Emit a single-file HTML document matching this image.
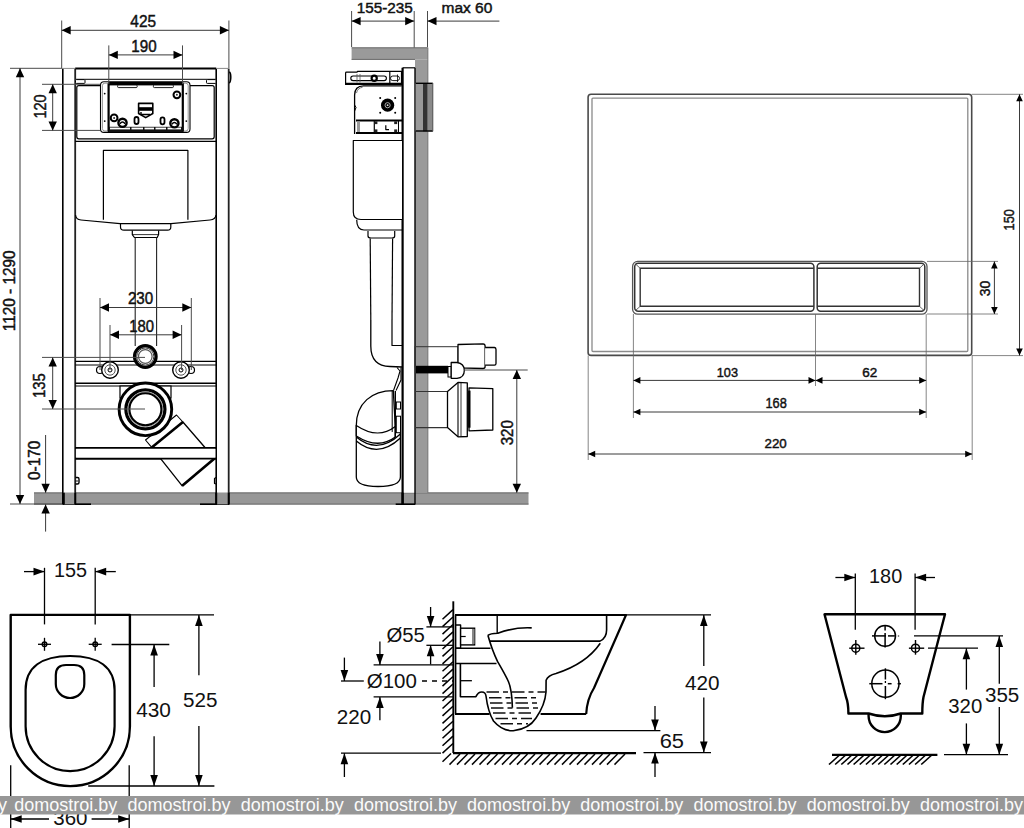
<!DOCTYPE html>
<html><head><meta charset="utf-8"><style>
html,body{margin:0;padding:0;background:#fff;width:1024px;height:828px;overflow:hidden}
svg{display:block}
text{font-family:"Liberation Sans",sans-serif}
</style></head><body>
<svg width="1024" height="828" viewBox="0 0 1024 828">
<rect x="34.00" y="492.30" width="494.50" height="12.40" rx="0" stroke="none" stroke-width="0" fill="#979797" />
<line x1="34.00" y1="493.00" x2="528.50" y2="493.00" stroke="#707070" stroke-width="1.2" />
<line x1="34.00" y1="504.00" x2="528.50" y2="504.00" stroke="#707070" stroke-width="1.2" />
<rect x="62.80" y="68.50" width="12.40" height="424.20" rx="0" stroke="none" stroke-width="0" fill="#fff" />
<line x1="62.80" y1="68.50" x2="62.80" y2="504.40" stroke="#000" stroke-width="1.6" />
<line x1="75.20" y1="68.50" x2="75.20" y2="504.40" stroke="#222" stroke-width="1.8" />
<rect x="216.20" y="68.50" width="12.50" height="424.20" rx="0" stroke="none" stroke-width="0" fill="#fff" />
<line x1="216.20" y1="68.50" x2="216.20" y2="504.40" stroke="#000" stroke-width="1.6" />
<line x1="228.70" y1="68.50" x2="228.70" y2="504.40" stroke="#222" stroke-width="1.8" />
<line x1="75.20" y1="68.40" x2="216.20" y2="68.40" stroke="#000" stroke-width="2" />
<line x1="62.80" y1="68.40" x2="75.20" y2="68.40" stroke="#888" stroke-width="1" />
<line x1="216.20" y1="68.40" x2="228.70" y2="68.40" stroke="#888" stroke-width="1" />
<path d="M229.2,72 Q230.8,72.5 230.8,77 Q230.8,82 229.2,83" stroke="#000" stroke-width="1.5" fill="none" stroke-linejoin="round" />
<line x1="63.00" y1="504.20" x2="91.00" y2="504.20" stroke="#000" stroke-width="1.6" />
<line x1="200.00" y1="504.20" x2="229.00" y2="504.20" stroke="#000" stroke-width="1.6" />
<rect x="63.80" y="492.70" width="11.20" height="11.70" rx="0" stroke="none" stroke-width="0" fill="#959595" />
<rect x="217.00" y="492.70" width="11.20" height="11.70" rx="0" stroke="none" stroke-width="0" fill="#959595" />
<path d="M75.5,477.5 L77.5,477.5 Q79,477.5 79,479 L79,482.5 Q79,484 77.5,484 L75.5,484" stroke="#000" stroke-width="1.4" fill="none" stroke-linejoin="round" />
<line x1="75.50" y1="481.00" x2="78.00" y2="481.00" stroke="#000" stroke-width="0.9" />
<path d="M216,477.5 L214.5,478.5 L214.5,483.5 L216,484" stroke="#000" stroke-width="1.2" fill="none" stroke-linejoin="round" />
<line x1="63.80" y1="492.70" x2="63.80" y2="504.40" stroke="#000" stroke-width="2" />
<line x1="75.20" y1="492.70" x2="75.20" y2="504.40" stroke="#000" stroke-width="2" />
<line x1="216.20" y1="492.70" x2="216.20" y2="504.40" stroke="#000" stroke-width="2" />
<line x1="228.70" y1="492.70" x2="228.70" y2="504.40" stroke="#000" stroke-width="2" />
<line x1="75.20" y1="79.40" x2="216.20" y2="79.40" stroke="#333" stroke-width="1.1" />
<rect x="75.50" y="79.60" width="9.50" height="3.80" rx="0.8" stroke="#000" stroke-width="1" fill="#fff" />
<rect x="206.50" y="79.60" width="9.50" height="3.80" rx="0.8" stroke="#000" stroke-width="1" fill="#fff" />
<rect x="76.80" y="85.60" width="137.40" height="53.20" rx="2" stroke="#000" stroke-width="1.2" fill="none" />
<line x1="75.20" y1="141.40" x2="216.20" y2="141.40" stroke="#000" stroke-width="1.2" />
<rect x="100.50" y="81.80" width="89.50" height="50.60" rx="3.5" stroke="#000" stroke-width="1.1" fill="#fff" />
<rect x="102.40" y="83.20" width="85.80" height="47.80" rx="2.5" stroke="#666" stroke-width="0.7" fill="none" />
<rect x="108.60" y="83.20" width="74.20" height="48.60" rx="1" stroke="#000" stroke-width="2.2" fill="none" />
<rect x="108.60" y="82.60" width="74.20" height="2.80" rx="0" stroke="none" stroke-width="0" fill="#000" />
<rect x="117.60" y="85.00" width="19.60" height="2.60" rx="1" stroke="#000" stroke-width="0.9" fill="#fff" />
<rect x="153.40" y="85.00" width="20.00" height="2.60" rx="1" stroke="#000" stroke-width="0.9" fill="#fff" />
<rect x="108.60" y="126.80" width="74.20" height="5.20" rx="0" stroke="none" stroke-width="0" fill="#111" />
<rect x="110.00" y="127.60" width="20.00" height="1.80" rx="0" stroke="none" stroke-width="0" fill="#fff" />
<rect x="131.50" y="127.60" width="11.50" height="1.80" rx="0" stroke="none" stroke-width="0" fill="#fff" />
<rect x="144.50" y="127.60" width="9.50" height="1.80" rx="0" stroke="none" stroke-width="0" fill="#fff" />
<rect x="155.50" y="127.60" width="10.50" height="1.80" rx="0" stroke="none" stroke-width="0" fill="#fff" />
<rect x="167.50" y="127.60" width="13.50" height="1.80" rx="0" stroke="none" stroke-width="0" fill="#fff" />
<circle cx="176.90" cy="94.80" r="3.40" stroke="#000" stroke-width="2" fill="none"/>
<circle cx="176.90" cy="94.80" r="1.00" stroke="#000" stroke-width="0" fill="#333"/>
<circle cx="114.10" cy="117.90" r="3.40" stroke="#000" stroke-width="2" fill="none"/>
<circle cx="114.10" cy="117.90" r="1.00" stroke="#000" stroke-width="0" fill="#333"/>
<circle cx="122.50" cy="122.80" r="4.10" stroke="#000" stroke-width="2.4" fill="#fff"/>
<path d="M120.0,123.8 Q122.5,120.3 125.0,123.8" stroke="#000" stroke-width="1.5" fill="none" stroke-linejoin="round" />
<circle cx="174.40" cy="123.30" r="4.10" stroke="#000" stroke-width="2.4" fill="#fff"/>
<path d="M171.9,124.3 Q174.4,120.8 176.9,124.3" stroke="#000" stroke-width="1.5" fill="none" stroke-linejoin="round" />
<rect x="134.50" y="117.00" width="4.00" height="7.00" rx="2" stroke="#000" stroke-width="1.8" fill="#fff" />
<rect x="160.50" y="117.30" width="4.00" height="7.00" rx="2" stroke="#000" stroke-width="1.8" fill="#fff" />
<path d="M138.6,103.4 L152.8,103.4 L152.8,113.5 L145.7,117.6 L138.6,113.5 Z" stroke="#000" stroke-width="1.6" fill="#fff" stroke-linejoin="round" />
<rect x="138.60" y="107.20" width="14.20" height="3.60" rx="0" stroke="none" stroke-width="0" fill="#000" />
<path d="M141,112 L141,114.5 L150,114.5" stroke="#000" stroke-width="1.4" fill="none" stroke-linejoin="round" />
<circle cx="104.70" cy="93.60" r="0.90" stroke="#000" stroke-width="0" fill="#000"/>
<circle cx="186.30" cy="93.60" r="0.90" stroke="#000" stroke-width="0" fill="#000"/>
<circle cx="104.70" cy="121.10" r="0.90" stroke="#000" stroke-width="0" fill="#000"/>
<circle cx="186.30" cy="121.10" r="0.90" stroke="#000" stroke-width="0" fill="#000"/>
<path d="M103.4,219.8 L103.4,150.4 L187.9,150.4 L187.9,219.8" stroke="#000" stroke-width="1.2" fill="none" stroke-linejoin="round" />
<path d="M75.5,215 Q76,219.5 81,220 L120,223.6 L171,223.6 L210,220 Q215.5,219.5 216,215" stroke="#000" stroke-width="1.2" fill="none" stroke-linejoin="round" />
<path d="M120.5,223.6 L120.5,227 Q120.5,230.2 124,230.2 L167.5,230.2 Q170.8,230.2 170.8,227 L170.8,223.6" stroke="#000" stroke-width="1.2" fill="none" stroke-linejoin="round" />
<path d="M132.3,230.5 L132.3,234.6 L134.4,237.5 L157.2,237.5 L158.6,234.6 L158.6,230.5" stroke="#000" stroke-width="1.2" fill="none" stroke-linejoin="round" />
<line x1="132.30" y1="234.60" x2="158.60" y2="234.60" stroke="#000" stroke-width="0.8" />
<line x1="135.20" y1="237.50" x2="135.20" y2="346.00" stroke="#222" stroke-width="1.1" />
<line x1="156.60" y1="237.50" x2="156.60" y2="346.00" stroke="#222" stroke-width="1.1" />
<line x1="75.20" y1="361.40" x2="216.20" y2="361.40" stroke="#000" stroke-width="1.4" />
<line x1="75.20" y1="365.00" x2="216.20" y2="365.00" stroke="#000" stroke-width="1" />
<line x1="75.20" y1="383.30" x2="216.20" y2="383.30" stroke="#000" stroke-width="1.4" />
<line x1="75.20" y1="386.00" x2="216.20" y2="386.00" stroke="#000" stroke-width="1" />
<line x1="75.20" y1="447.90" x2="216.20" y2="447.90" stroke="#000" stroke-width="1.8" />
<line x1="75.20" y1="458.70" x2="216.20" y2="458.70" stroke="#000" stroke-width="1.8" />
<circle cx="145.30" cy="356.50" r="10.80" stroke="#000" stroke-width="3.2" fill="#fff"/>
<circle cx="145.30" cy="356.50" r="8.60" stroke="#333" stroke-width="1" fill="none"/>
<circle cx="145.30" cy="356.50" r="6.80" stroke="#555" stroke-width="1.2" fill="none"/>
<circle cx="100.00" cy="370.00" r="3.50" stroke="#000" stroke-width="1.2" fill="#fff"/>
<circle cx="110.00" cy="370.00" r="8.30" stroke="#000" stroke-width="1.4" fill="#fff"/>
<circle cx="110.00" cy="370.00" r="5.20" stroke="#555" stroke-width="1" fill="none"/>
<circle cx="110.00" cy="370.00" r="2.00" stroke="#000" stroke-width="1" fill="none"/>
<circle cx="191.00" cy="370.00" r="3.50" stroke="#000" stroke-width="1.2" fill="#fff"/>
<circle cx="181.00" cy="370.00" r="8.30" stroke="#000" stroke-width="1.4" fill="#fff"/>
<circle cx="181.00" cy="370.00" r="5.20" stroke="#555" stroke-width="1" fill="none"/>
<circle cx="181.00" cy="370.00" r="2.00" stroke="#000" stroke-width="1" fill="none"/>
<path d="M151.7,447.4 L182.9,422 L214.5,458.5 L182.2,485.8 Z" stroke="#000" stroke-width="1.3" fill="#fff" stroke-linejoin="round" />
<path d="M145.5,440 L176.5,415 L182.9,422 L151.7,447.4 Z" stroke="#000" stroke-width="1.1" fill="#fff" stroke-linejoin="round" />
<line x1="151.70" y1="447.40" x2="182.90" y2="422.00" stroke="#000" stroke-width="2.6" />
<line x1="182.20" y1="485.80" x2="214.50" y2="458.50" stroke="#000" stroke-width="2.6" />
<rect x="76.20" y="447.90" width="139.00" height="10.80" rx="0" stroke="none" stroke-width="0" fill="#fff" />
<line x1="75.20" y1="447.90" x2="216.20" y2="447.90" stroke="#000" stroke-width="1.8" />
<line x1="75.20" y1="458.70" x2="216.20" y2="458.70" stroke="#000" stroke-width="1.8" />
<rect x="120.00" y="386.00" width="51.00" height="12.00" rx="0" stroke="#000" stroke-width="1.2" fill="#fff" />
<circle cx="145.40" cy="409.30" r="26.30" stroke="#000" stroke-width="2.9" fill="#fff"/>
<circle cx="145.40" cy="409.30" r="19.50" stroke="#000" stroke-width="3.3" fill="none"/>
<circle cx="145.40" cy="409.30" r="17.40" stroke="#999" stroke-width="0.9" fill="none"/>
<circle cx="145.40" cy="409.30" r="16.00" stroke="#000" stroke-width="2.1" fill="none"/>
<line x1="61.70" y1="20.50" x2="61.70" y2="68.00" stroke="#4a4a4a" stroke-width="1" />
<line x1="228.90" y1="20.50" x2="228.90" y2="68.00" stroke="#4a4a4a" stroke-width="1" />
<line x1="61.70" y1="30.30" x2="228.90" y2="30.30" stroke="#3a3a3a" stroke-width="1" />
<polygon points="61.70,30.30 70.70,26.10 70.70,34.50" fill="#000"/>
<polygon points="228.90,30.30 219.90,26.10 219.90,34.50" fill="#000"/>
<text x="143.20" y="26.80" font-size="16.48" text-anchor="middle" fill="#111" stroke="#111" stroke-width="0.45" textLength="25.75" lengthAdjust="spacingAndGlyphs">425</text>
<line x1="108.80" y1="45.40" x2="108.80" y2="84.00" stroke="#4a4a4a" stroke-width="1" />
<line x1="182.50" y1="45.40" x2="182.50" y2="84.00" stroke="#4a4a4a" stroke-width="1" />
<line x1="108.80" y1="54.90" x2="182.50" y2="54.90" stroke="#3a3a3a" stroke-width="1" />
<polygon points="108.80,54.90 117.80,50.70 117.80,59.10" fill="#000"/>
<polygon points="182.50,54.90 173.50,50.70 173.50,59.10" fill="#000"/>
<text x="144.00" y="51.60" font-size="15.92" text-anchor="middle" fill="#111" stroke="#111" stroke-width="0.45" textLength="25.31" lengthAdjust="spacingAndGlyphs">190</text>
<line x1="10.00" y1="68.30" x2="62.00" y2="68.30" stroke="#4a4a4a" stroke-width="1" />
<line x1="10.00" y1="504.00" x2="62.00" y2="504.00" stroke="#4a4a4a" stroke-width="1" />
<line x1="20.00" y1="68.00" x2="20.00" y2="504.00" stroke="#3a3a3a" stroke-width="1" />
<polygon points="20.00,68.30 15.80,77.30 24.20,77.30" fill="#000"/>
<polygon points="20.00,504.00 15.80,495.00 24.20,495.00" fill="#000"/>
<text x="15.00" y="290.75" font-size="16.06" text-anchor="middle" fill="#111" stroke="#111" stroke-width="0.45" textLength="80.82" lengthAdjust="spacingAndGlyphs" transform="rotate(-90 15.00 290.75)">1120 - 1290</text>
<line x1="42.00" y1="84.30" x2="100.00" y2="84.30" stroke="#4a4a4a" stroke-width="1" />
<line x1="42.00" y1="130.40" x2="100.00" y2="130.40" stroke="#4a4a4a" stroke-width="1" />
<line x1="52.70" y1="84.30" x2="52.70" y2="130.40" stroke="#3a3a3a" stroke-width="1" />
<polygon points="52.70,84.30 48.50,93.30 56.90,93.30" fill="#000"/>
<polygon points="52.70,130.40 48.50,121.40 56.90,121.40" fill="#000"/>
<text x="46.00" y="106.45" font-size="16.06" text-anchor="middle" fill="#111" stroke="#111" stroke-width="0.45" textLength="24.22" lengthAdjust="spacingAndGlyphs" transform="rotate(-90 46.00 106.45)">120</text>
<line x1="42.00" y1="357.40" x2="145.00" y2="357.40" stroke="#4a4a4a" stroke-width="1" />
<line x1="42.00" y1="409.00" x2="145.00" y2="409.00" stroke="#4a4a4a" stroke-width="1" />
<line x1="52.70" y1="357.40" x2="52.70" y2="409.00" stroke="#3a3a3a" stroke-width="1" />
<polygon points="52.70,357.40 48.50,366.40 56.90,366.40" fill="#000"/>
<polygon points="52.70,409.00 48.50,400.00 56.90,400.00" fill="#000"/>
<text x="45.20" y="385.50" font-size="16.48" text-anchor="middle" fill="#111" stroke="#111" stroke-width="0.45" textLength="24.75" lengthAdjust="spacingAndGlyphs" transform="rotate(-90 45.20 385.50)">135</text>
<line x1="45.60" y1="435.00" x2="45.60" y2="492.70" stroke="#3a3a3a" stroke-width="1" />
<polygon points="45.60,492.70 41.40,483.70 49.80,483.70" fill="#000"/>
<line x1="45.60" y1="504.40" x2="45.60" y2="531.60" stroke="#3a3a3a" stroke-width="1" />
<polygon points="45.60,504.40 41.40,513.40 49.80,513.40" fill="#000"/>
<text x="40.20" y="460.35" font-size="16.90" text-anchor="middle" fill="#111" stroke="#111" stroke-width="0.45" textLength="39.28" lengthAdjust="spacingAndGlyphs" transform="rotate(-90 40.20 460.35)">0-170</text>
<line x1="100.00" y1="298.00" x2="100.00" y2="370.00" stroke="#4a4a4a" stroke-width="1" />
<line x1="191.30" y1="298.00" x2="191.30" y2="370.00" stroke="#4a4a4a" stroke-width="1" />
<line x1="100.00" y1="307.50" x2="191.30" y2="307.50" stroke="#3a3a3a" stroke-width="1" />
<polygon points="100.00,307.50 109.00,303.30 109.00,311.70" fill="#000"/>
<polygon points="191.30,307.50 182.30,303.30 182.30,311.70" fill="#000"/>
<text x="140.60" y="303.90" font-size="15.92" text-anchor="middle" fill="#111" stroke="#111" stroke-width="0.45" textLength="25.31" lengthAdjust="spacingAndGlyphs">230</text>
<line x1="110.00" y1="325.00" x2="110.00" y2="370.00" stroke="#4a4a4a" stroke-width="1" />
<line x1="181.60" y1="325.00" x2="181.60" y2="370.00" stroke="#4a4a4a" stroke-width="1" />
<line x1="110.00" y1="334.80" x2="181.60" y2="334.80" stroke="#3a3a3a" stroke-width="1" />
<polygon points="110.00,334.80 119.00,330.60 119.00,339.00" fill="#000"/>
<polygon points="181.60,334.80 172.60,330.60 172.60,339.00" fill="#000"/>
<text x="141.55" y="331.60" font-size="15.92" text-anchor="middle" fill="#111" stroke="#111" stroke-width="0.45" textLength="24.81" lengthAdjust="spacingAndGlyphs">180</text>
<rect x="351.60" y="47.60" width="76.30" height="12.00" rx="0" stroke="none" stroke-width="0" fill="#9a9a9a" />
<line x1="351.60" y1="47.80" x2="427.90" y2="47.80" stroke="#6a6a6a" stroke-width="1" />
<line x1="351.60" y1="59.40" x2="415.00" y2="59.40" stroke="#6a6a6a" stroke-width="1" />
<rect x="415.00" y="59.50" width="12.90" height="433.30" rx="0" stroke="none" stroke-width="0" fill="#9a9a9a" />
<line x1="427.90" y1="47.60" x2="427.90" y2="492.80" stroke="#666" stroke-width="0.8" />
<rect x="402.60" y="67.80" width="12.40" height="424.90" rx="0" stroke="none" stroke-width="0" fill="#fff" />
<line x1="402.60" y1="67.80" x2="402.60" y2="504.40" stroke="#000" stroke-width="2.2" />
<line x1="415.00" y1="67.80" x2="415.00" y2="504.40" stroke="#000" stroke-width="1.4" />
<line x1="402.60" y1="67.80" x2="415.00" y2="67.80" stroke="#000" stroke-width="1.2" />
<line x1="395.70" y1="504.20" x2="415.00" y2="504.20" stroke="#000" stroke-width="1.6" />
<line x1="402.60" y1="492.70" x2="402.60" y2="504.40" stroke="#000" stroke-width="2.2" />
<line x1="351.60" y1="11.00" x2="351.60" y2="47.00" stroke="#4a4a4a" stroke-width="1" />
<line x1="414.20" y1="11.00" x2="414.20" y2="47.60" stroke="#4a4a4a" stroke-width="1" />
<line x1="427.50" y1="11.00" x2="427.50" y2="47.00" stroke="#4a4a4a" stroke-width="1" />
<line x1="351.60" y1="21.10" x2="414.20" y2="21.10" stroke="#3a3a3a" stroke-width="1" />
<polygon points="351.60,21.10 360.60,16.90 360.60,25.30" fill="#000"/>
<polygon points="414.20,21.10 405.20,16.90 405.20,25.30" fill="#000"/>
<line x1="427.50" y1="21.10" x2="499.40" y2="21.10" stroke="#3a3a3a" stroke-width="1" />
<polygon points="427.50,21.10 436.50,16.90 436.50,25.30" fill="#000"/>
<text x="384.80" y="12.50" font-size="15.49" text-anchor="middle" fill="#111" stroke="#111" stroke-width="0.45" textLength="56.08" lengthAdjust="spacingAndGlyphs">155-235</text>
<text x="466.90" y="13.20" font-size="15.49" text-anchor="middle" fill="#111" stroke="#111" stroke-width="0.45" textLength="50.88" lengthAdjust="spacingAndGlyphs">max 60</text>
<rect x="415.70" y="83.00" width="17.10" height="48.30" rx="0" stroke="none" stroke-width="0" fill="#999" />
<rect x="427.50" y="83.00" width="5.30" height="48.30" rx="0" stroke="none" stroke-width="0" fill="#8a8a8a" />
<rect x="423.00" y="83.00" width="4.40" height="48.30" rx="0" stroke="none" stroke-width="0" fill="#333" />
<line x1="415.70" y1="83.30" x2="432.80" y2="83.30" stroke="#000" stroke-width="1.4" />
<line x1="415.70" y1="131.00" x2="432.80" y2="131.00" stroke="#000" stroke-width="1.4" />
<line x1="432.80" y1="83.00" x2="432.80" y2="131.30" stroke="#555" stroke-width="1" />
<path d="M345.6,84.4 L345.6,73 Q345.6,72.2 346.5,72.2 L357,72.2 L357.5,71.3 L401.5,71.3 L401.5,84.4 Z" stroke="#000" stroke-width="1.2" fill="#fff" stroke-linejoin="round" />
<line x1="345.60" y1="83.80" x2="401.50" y2="83.80" stroke="#000" stroke-width="2" />
<rect x="350.80" y="76.00" width="35.60" height="4.60" rx="2.3" stroke="#000" stroke-width="1.1" fill="none" />
<circle cx="374.20" cy="78.30" r="2.60" stroke="#000" stroke-width="2.2" fill="#fff"/>
<line x1="357.00" y1="74.00" x2="357.00" y2="82.50" stroke="#555" stroke-width="0.8" />
<line x1="360.00" y1="74.00" x2="360.00" y2="82.50" stroke="#555" stroke-width="0.8" />
<line x1="389.80" y1="72.00" x2="389.80" y2="83.50" stroke="#000" stroke-width="1.2" />
<rect x="390.50" y="76.00" width="9.00" height="4.60" rx="2.3" stroke="#000" stroke-width="0.9" fill="none" />
<line x1="397.50" y1="74.50" x2="397.50" y2="82.00" stroke="#000" stroke-width="0.8" />
<path d="M354.6,134 L354.6,95 Q354.6,86 363.5,85.8 L402,85.8" stroke="#000" stroke-width="1.3" fill="#fff" stroke-linejoin="round" />
<path d="M356.5,93 Q357.5,88 362.5,87.3" stroke="#555" stroke-width="0.8" fill="none" stroke-linejoin="round" />
<path d="M354.6,105 Q357.5,107 354.6,111" stroke="#000" stroke-width="1" fill="none" stroke-linejoin="round" />
<circle cx="387.60" cy="105.20" r="6.60" stroke="none" stroke-width="0" fill="#000"/>
<circle cx="387.60" cy="105.20" r="2.60" stroke="#bbb" stroke-width="0.9" fill="none"/>
<circle cx="387.60" cy="105.20" r="0.90" stroke="#000" stroke-width="0" fill="#ddd"/>
<circle cx="380.20" cy="97.90" r="1.00" stroke="#000" stroke-width="0" fill="#000"/>
<circle cx="395.20" cy="97.90" r="1.00" stroke="#000" stroke-width="0" fill="#000"/>
<circle cx="380.20" cy="112.80" r="1.00" stroke="#000" stroke-width="0" fill="#000"/>
<circle cx="395.20" cy="112.80" r="1.00" stroke="#000" stroke-width="0" fill="#000"/>
<line x1="356.00" y1="120.50" x2="402.00" y2="120.50" stroke="#000" stroke-width="1.8" />
<line x1="356.00" y1="133.00" x2="402.00" y2="133.00" stroke="#000" stroke-width="1.8" />
<rect x="357.00" y="121.50" width="3.00" height="10.50" rx="0" stroke="none" stroke-width="0" fill="#9a9a9a" />
<line x1="374.30" y1="121.00" x2="374.30" y2="132.50" stroke="#000" stroke-width="1.2" />
<rect x="374.60" y="121.30" width="2.80" height="2.80" rx="0" stroke="none" stroke-width="0" fill="#222" />
<rect x="374.60" y="129.40" width="2.80" height="2.80" rx="0" stroke="none" stroke-width="0" fill="#222" />
<rect x="394.20" y="121.30" width="3.00" height="2.80" rx="0" stroke="none" stroke-width="0" fill="#222" />
<rect x="394.20" y="129.40" width="3.00" height="2.80" rx="0" stroke="none" stroke-width="0" fill="#222" />
<line x1="398.50" y1="121.00" x2="398.50" y2="133.00" stroke="#000" stroke-width="1" />
<path d="M385.8,125.2 L385.8,129.6 L389,129.6" stroke="#000" stroke-width="1.2" fill="none" stroke-linejoin="round" />
<path d="M402,140.5 L353.3,140.5 L353.3,212 Q353.3,219.5 361,219.5 L402,219.5" stroke="#000" stroke-width="1.2" fill="#fff" stroke-linejoin="round" />
<path d="M356.7,219.8 Q356.7,230 364,230 L402,230" stroke="#000" stroke-width="1.2" fill="none" stroke-linejoin="round" />
<path d="M368,231 L368,236 Q368,238 371,238 L392,238 Q394.7,238 394.7,236 L394.7,231" stroke="#000" stroke-width="1.2" fill="none" stroke-linejoin="round" />
<line x1="370.20" y1="238.50" x2="370.80" y2="320.00" stroke="#000" stroke-width="1.2" />
<line x1="392.60" y1="238.50" x2="392.00" y2="320.00" stroke="#000" stroke-width="1.2" />
<path d="M370.8,320 L370.8,346 Q370.8,366 390,366.5 L402,367" stroke="#000" stroke-width="1.3" fill="none" stroke-linejoin="round" />
<path d="M392,320 L392,345.5 L402,345.5" stroke="#000" stroke-width="1.2" fill="none" stroke-linejoin="round" />
<rect x="415.00" y="346.70" width="43.00" height="20.30" rx="0" stroke="#333" stroke-width="1" fill="none" />
<path d="M458,344.5 L483,343.8 Q485.1,344 485.1,346 L485.1,366.5 Q485.1,368.5 483,368.5 L458,367.8 Z" stroke="#000" stroke-width="1.3" fill="#fff" stroke-linejoin="round" />
<path d="M485.1,347.5 L494.5,347.5 Q496,347.7 496,349.5 L496,363.5 Q496,365.2 494.5,365.2 L485.1,365.2" stroke="#000" stroke-width="1.3" fill="#fff" stroke-linejoin="round" />
<rect x="416.00" y="365.80" width="32.00" height="7.60" rx="0" stroke="none" stroke-width="0" fill="#000" />
<rect x="448.00" y="366.50" width="3.20" height="10.50" rx="0" stroke="#000" stroke-width="1" fill="#fff" />
<path d="M451.2,362.5 L457,362.5 Q464.3,363.5 464.3,370.4 Q464.3,377.5 457,378.3 L451.2,378.3 Z" stroke="#000" stroke-width="1.3" fill="#fff" stroke-linejoin="round" />
<line x1="464.00" y1="370.00" x2="527.70" y2="370.00" stroke="#4a4a4a" stroke-width="1" />
<line x1="415.00" y1="391.50" x2="447.50" y2="391.50" stroke="#333" stroke-width="1.1" />
<line x1="415.00" y1="427.60" x2="447.50" y2="427.60" stroke="#333" stroke-width="1.1" />
<path d="M447.5,391.5 L458,382.4 L467.3,382.8 L467.3,436.5 L458,436.8 L447.5,427.6 Z" stroke="#000" stroke-width="1.3" fill="#fff" stroke-linejoin="round" />
<line x1="458.00" y1="382.40" x2="458.00" y2="436.80" stroke="#000" stroke-width="1.1" />
<line x1="461.00" y1="382.60" x2="461.00" y2="436.60" stroke="#000" stroke-width="0.8" />
<path d="M469,387.9 L492.8,388.6 L492.8,430 L469,430.8 Z" stroke="#000" stroke-width="1.3" fill="#fff" stroke-linejoin="round" />
<line x1="469.30" y1="390.60" x2="469.30" y2="427.70" stroke="#000" stroke-width="2.4" />
<path d="M356.3,425 L356.3,477 Q356.3,486.5 378,486.5 Q400.4,486.5 400.4,477 L400.4,430" stroke="#000" stroke-width="1.3" fill="#fff" stroke-linejoin="round" />
<path d="M356.3,437 Q378,455 400.4,434" stroke="#000" stroke-width="1.3" fill="none" stroke-linejoin="round" />
<path d="M356.3,441 Q378,459 400.4,438" stroke="#000" stroke-width="1.3" fill="none" stroke-linejoin="round" />
<path d="M393.3,390.6 C372,390.6 356.3,403 356.3,425.5 L356.3,436 Q378,450 395.3,437 L395.3,426.5 L393.3,390.6 Z" stroke="#000" stroke-width="1.3" fill="#fff" stroke-linejoin="round" />
<path d="M356.3,425.5 Q378,440 395.3,426.5" stroke="#000" stroke-width="1.2" fill="none" stroke-linejoin="round" />
<line x1="392.20" y1="391.00" x2="392.20" y2="432.00" stroke="#000" stroke-width="1" />
<line x1="395.30" y1="391.00" x2="395.30" y2="437.00" stroke="#000" stroke-width="1.4" />
<rect x="396.30" y="402.00" width="4.20" height="7.00" rx="0" stroke="#000" stroke-width="1" fill="#fff" />
<rect x="396.30" y="416.20" width="4.20" height="16.50" rx="0" stroke="#000" stroke-width="1" fill="#fff" />
<path d="M397,367.5 L400,371 L398,378 L393.5,390.5" stroke="#000" stroke-width="1.1" fill="none" stroke-linejoin="round" />
<path d="M401,367.5 L401,380 L396,390.5" stroke="#000" stroke-width="1.1" fill="none" stroke-linejoin="round" />
<line x1="516.80" y1="370.00" x2="516.80" y2="492.70" stroke="#3a3a3a" stroke-width="1" />
<polygon points="516.80,370.00 512.60,379.00 521.00,379.00" fill="#000"/>
<polygon points="516.80,492.70 512.60,483.70 521.00,483.70" fill="#000"/>
<text x="513.30" y="432.70" font-size="15.92" text-anchor="middle" fill="#111" stroke="#111" stroke-width="0.45" textLength="25.11" lengthAdjust="spacingAndGlyphs" transform="rotate(-90 513.30 432.70)">320</text>
<rect x="588.10" y="94.30" width="383.60" height="261.10" rx="3" stroke="#4a4a4a" stroke-width="1.6" fill="none" />
<rect x="592.00" y="98.10" width="375.80" height="253.40" rx="1" stroke="#8a8a8a" stroke-width="1.3" fill="none" />
<rect x="632.60" y="261.40" width="294.40" height="52.80" rx="5" stroke="#555" stroke-width="1.3" fill="none" />
<rect x="634.70" y="263.20" width="179.20" height="48.10" rx="3.5" stroke="#333" stroke-width="1.5" fill="none" />
<rect x="817.20" y="263.20" width="107.60" height="48.10" rx="3.5" stroke="#333" stroke-width="1.5" fill="none" />
<path d="M813.9,268.3 L640.2,268.3 L640.2,306.3 L813.9,306.3" stroke="#333" stroke-width="1.4" fill="none" stroke-linejoin="round" />
<path d="M817.2,268.3 L919.5,268.3 L919.5,306.3 L817.2,306.3" stroke="#333" stroke-width="1.4" fill="none" stroke-linejoin="round" />
<path d="M635.5,264 L640.2,268.3 M635.5,310.5 L640.2,306.3 M924,264 L919.5,268.3 M924,310.5 L919.5,306.3" stroke="#555" stroke-width="0.9" fill="none" stroke-linejoin="round" />
<line x1="927.00" y1="261.40" x2="998.00" y2="261.40" stroke="#666" stroke-width="0.8" />
<line x1="927.00" y1="314.00" x2="998.00" y2="314.00" stroke="#666" stroke-width="0.8" />
<line x1="994.40" y1="261.40" x2="994.40" y2="314.00" stroke="#3a3a3a" stroke-width="1" />
<polygon points="994.40,261.40 991.10,268.40 997.70,268.40" fill="#000"/>
<polygon points="994.40,314.00 991.10,307.00 997.70,307.00" fill="#000"/>
<text x="989.60" y="288.55" font-size="14.37" text-anchor="middle" fill="#111" stroke="#111" stroke-width="0.45" textLength="15.51" lengthAdjust="spacingAndGlyphs" transform="rotate(-90 989.60 288.55)">30</text>
<line x1="971.70" y1="94.30" x2="1023.00" y2="94.30" stroke="#666" stroke-width="0.8" />
<line x1="971.70" y1="355.60" x2="1023.00" y2="355.60" stroke="#666" stroke-width="0.8" />
<line x1="1019.50" y1="94.30" x2="1019.50" y2="355.60" stroke="#3a3a3a" stroke-width="1" />
<polygon points="1019.50,94.30 1016.20,101.30 1022.80,101.30" fill="#000"/>
<polygon points="1019.50,355.60 1016.20,348.60 1022.80,348.60" fill="#000"/>
<text x="1014.20" y="219.75" font-size="14.93" text-anchor="middle" fill="#111" stroke="#111" stroke-width="0.45" textLength="21.35" lengthAdjust="spacingAndGlyphs" transform="rotate(-90 1014.20 219.75)">150</text>
<line x1="633.40" y1="314.00" x2="633.40" y2="418.00" stroke="#666" stroke-width="0.8" />
<line x1="926.20" y1="314.00" x2="926.20" y2="418.00" stroke="#666" stroke-width="0.8" />
<line x1="815.50" y1="314.00" x2="815.50" y2="386.00" stroke="#666" stroke-width="0.8" />
<line x1="588.20" y1="355.60" x2="588.20" y2="460.00" stroke="#666" stroke-width="0.8" />
<line x1="972.20" y1="355.60" x2="972.20" y2="460.00" stroke="#666" stroke-width="0.8" />
<line x1="633.40" y1="380.40" x2="815.50" y2="380.40" stroke="#3a3a3a" stroke-width="1" />
<polygon points="633.40,380.40 640.40,377.10 640.40,383.70" fill="#000"/>
<polygon points="815.50,380.40 808.50,377.10 808.50,383.70" fill="#000"/>
<line x1="815.50" y1="380.40" x2="926.20" y2="380.40" stroke="#3a3a3a" stroke-width="1" />
<polygon points="815.50,380.40 822.50,377.10 822.50,383.70" fill="#000"/>
<polygon points="926.20,380.40 919.20,377.10 919.20,383.70" fill="#000"/>
<text x="727.35" y="377.20" font-size="13.24" text-anchor="middle" fill="#111" stroke="#111" stroke-width="0.45" textLength="21.23" lengthAdjust="spacingAndGlyphs">103</text>
<text x="869.75" y="377.20" font-size="13.24" text-anchor="middle" fill="#111" stroke="#111" stroke-width="0.45" textLength="15.03" lengthAdjust="spacingAndGlyphs">62</text>
<line x1="633.40" y1="412.00" x2="926.20" y2="412.00" stroke="#3a3a3a" stroke-width="1" />
<polygon points="633.40,412.00 640.40,408.70 640.40,415.30" fill="#000"/>
<polygon points="926.20,412.00 919.20,408.70 919.20,415.30" fill="#000"/>
<text x="776.15" y="407.90" font-size="14.65" text-anchor="middle" fill="#111" stroke="#111" stroke-width="0.45" textLength="21.33" lengthAdjust="spacingAndGlyphs">168</text>
<line x1="588.20" y1="454.00" x2="972.20" y2="454.00" stroke="#3a3a3a" stroke-width="1" />
<polygon points="588.20,454.00 595.20,450.70 595.20,457.30" fill="#000"/>
<polygon points="972.20,454.00 965.20,450.70 965.20,457.30" fill="#000"/>
<text x="775.65" y="448.30" font-size="13.52" text-anchor="middle" fill="#111" stroke="#111" stroke-width="0.45" textLength="22.25" lengthAdjust="spacingAndGlyphs">220</text>
<path d="M10.7,614.9 L129.9,614.9 L129.9,726.5 A59.6,59.6 0 0 1 10.7,726.5 Z" stroke="#000" stroke-width="2.4" fill="none" stroke-linejoin="round" />
<path d="M25.6,690 C25.6,667 42,656 70.1,656 C98.2,656 114.6,667 114.6,690 L114.6,726.3 A44.5,44.8 0 0 1 25.6,726.3 Z" stroke="#000" stroke-width="2.2" fill="none" stroke-linejoin="round" />
<path d="M55.8,684 L55.8,675 C55.8,668 59,665 66,665 L74.1,665 C81.1,665 84.3,668 84.3,675 L84.3,684 A14.25,14 0 0 1 55.8,684 Z" stroke="#000" stroke-width="2.2" fill="none" stroke-linejoin="round" />
<circle cx="44.50" cy="644.30" r="2.30" stroke="#000" stroke-width="1.4" fill="none"/>
<line x1="38.00" y1="644.30" x2="51.00" y2="644.30" stroke="#000" stroke-width="1.3" />
<line x1="44.50" y1="637.80" x2="44.50" y2="650.80" stroke="#000" stroke-width="1.3" />
<circle cx="95.20" cy="644.30" r="2.30" stroke="#000" stroke-width="1.4" fill="none"/>
<line x1="88.70" y1="644.30" x2="101.70" y2="644.30" stroke="#000" stroke-width="1.3" />
<line x1="95.20" y1="637.80" x2="95.20" y2="650.80" stroke="#000" stroke-width="1.3" />
<line x1="44.50" y1="567.80" x2="44.50" y2="624.40" stroke="#000" stroke-width="1.3" />
<line x1="95.20" y1="567.80" x2="95.20" y2="624.40" stroke="#000" stroke-width="1.3" />
<line x1="24.00" y1="571.60" x2="44.50" y2="571.60" stroke="#000" stroke-width="1.3" />
<polygon points="44.50,571.60 33.50,567.80 33.50,575.40" fill="#000"/>
<line x1="95.20" y1="571.60" x2="115.80" y2="571.60" stroke="#000" stroke-width="1.3" />
<polygon points="95.20,571.60 106.20,567.80 106.20,575.40" fill="#000"/>
<text x="70.50" y="577.10" font-size="21.13" text-anchor="middle" fill="#111" textLength="33.08" lengthAdjust="spacingAndGlyphs">155</text>
<line x1="129.90" y1="614.90" x2="214.00" y2="614.90" stroke="#000" stroke-width="1.3" />
<line x1="111.60" y1="644.50" x2="169.30" y2="644.50" stroke="#000" stroke-width="1.3" />
<line x1="88.20" y1="786.00" x2="214.40" y2="786.00" stroke="#000" stroke-width="1.3" />
<line x1="198.90" y1="614.90" x2="198.90" y2="675.20" stroke="#000" stroke-width="1.3" />
<polygon points="198.90,614.90 195.10,625.90 202.70,625.90" fill="#000"/>
<line x1="198.90" y1="726.00" x2="198.90" y2="786.00" stroke="#000" stroke-width="1.3" />
<polygon points="198.90,786.00 195.10,775.00 202.70,775.00" fill="#000"/>
<text x="200.20" y="707.40" font-size="20.85" text-anchor="middle" fill="#111" textLength="34.46" lengthAdjust="spacingAndGlyphs">525</text>
<line x1="154.10" y1="644.50" x2="154.10" y2="687.00" stroke="#000" stroke-width="1.3" />
<polygon points="154.10,644.50 150.30,655.50 157.90,655.50" fill="#000"/>
<line x1="154.10" y1="736.30" x2="154.10" y2="786.00" stroke="#000" stroke-width="1.3" />
<polygon points="154.10,786.00 150.30,775.00 157.90,775.00" fill="#000"/>
<text x="153.55" y="716.70" font-size="20.85" text-anchor="middle" fill="#111" textLength="34.76" lengthAdjust="spacingAndGlyphs">430</text>
<line x1="10.70" y1="765.30" x2="10.70" y2="828.00" stroke="#000" stroke-width="1.3" />
<line x1="129.20" y1="765.30" x2="129.20" y2="828.00" stroke="#000" stroke-width="1.3" />
<line x1="10.70" y1="819.00" x2="49.00" y2="819.00" stroke="#000" stroke-width="1.3" />
<polygon points="10.70,819.00 21.70,815.20 21.70,822.80" fill="#000"/>
<line x1="91.60" y1="819.00" x2="129.20" y2="819.00" stroke="#000" stroke-width="1.3" />
<polygon points="129.20,819.00 118.20,815.20 118.20,822.80" fill="#000"/>
<text x="70.40" y="824.80" font-size="20.85" text-anchor="middle" fill="#111" textLength="34.26" lengthAdjust="spacingAndGlyphs">360</text>
<line x1="442.50" y1="619.20" x2="453.00" y2="609.60" stroke="#000" stroke-width="1.5" />
<line x1="442.50" y1="626.64" x2="453.00" y2="617.04" stroke="#000" stroke-width="1.5" />
<line x1="442.50" y1="634.08" x2="453.00" y2="624.48" stroke="#000" stroke-width="1.5" />
<line x1="442.50" y1="641.52" x2="453.00" y2="631.92" stroke="#000" stroke-width="1.5" />
<line x1="442.50" y1="648.96" x2="453.00" y2="639.36" stroke="#000" stroke-width="1.5" />
<line x1="442.50" y1="656.40" x2="453.00" y2="646.80" stroke="#000" stroke-width="1.5" />
<line x1="442.50" y1="663.84" x2="453.00" y2="654.24" stroke="#000" stroke-width="1.5" />
<line x1="442.50" y1="671.28" x2="453.00" y2="661.68" stroke="#000" stroke-width="1.5" />
<line x1="442.50" y1="678.72" x2="453.00" y2="669.12" stroke="#000" stroke-width="1.5" />
<line x1="442.50" y1="686.16" x2="453.00" y2="676.56" stroke="#000" stroke-width="1.5" />
<line x1="442.50" y1="693.60" x2="453.00" y2="684.00" stroke="#000" stroke-width="1.5" />
<line x1="442.50" y1="701.04" x2="453.00" y2="691.44" stroke="#000" stroke-width="1.5" />
<line x1="442.50" y1="708.48" x2="453.00" y2="698.88" stroke="#000" stroke-width="1.5" />
<line x1="442.50" y1="715.92" x2="453.00" y2="706.32" stroke="#000" stroke-width="1.5" />
<line x1="442.50" y1="723.36" x2="453.00" y2="713.76" stroke="#000" stroke-width="1.5" />
<line x1="442.50" y1="730.80" x2="453.00" y2="721.20" stroke="#000" stroke-width="1.5" />
<line x1="442.50" y1="738.24" x2="453.00" y2="728.64" stroke="#000" stroke-width="1.5" />
<line x1="442.50" y1="745.68" x2="453.00" y2="736.08" stroke="#000" stroke-width="1.5" />
<line x1="442.50" y1="753.12" x2="453.00" y2="743.52" stroke="#000" stroke-width="1.5" />
<line x1="453.30" y1="601.30" x2="453.30" y2="753.00" stroke="#000" stroke-width="1.9" />
<line x1="455.60" y1="615.00" x2="455.60" y2="714.00" stroke="#000" stroke-width="1.6" />
<line x1="453.00" y1="753.20" x2="636.00" y2="753.20" stroke="#000" stroke-width="2.2" />
<line x1="643.50" y1="752.60" x2="711.00" y2="752.60" stroke="#000" stroke-width="1.3" />
<line x1="442.50" y1="761.70" x2="451.00" y2="753.50" stroke="#000" stroke-width="1.5" />
<line x1="449.50" y1="764.60" x2="460.00" y2="754.00" stroke="#000" stroke-width="1.5" />
<line x1="457.00" y1="764.60" x2="467.50" y2="754.00" stroke="#000" stroke-width="1.5" />
<line x1="464.50" y1="764.60" x2="475.00" y2="754.00" stroke="#000" stroke-width="1.5" />
<line x1="472.00" y1="764.60" x2="482.50" y2="754.00" stroke="#000" stroke-width="1.5" />
<line x1="479.50" y1="764.60" x2="490.00" y2="754.00" stroke="#000" stroke-width="1.5" />
<line x1="487.00" y1="764.60" x2="497.50" y2="754.00" stroke="#000" stroke-width="1.5" />
<line x1="494.50" y1="764.60" x2="505.00" y2="754.00" stroke="#000" stroke-width="1.5" />
<line x1="502.00" y1="764.60" x2="512.50" y2="754.00" stroke="#000" stroke-width="1.5" />
<line x1="509.50" y1="764.60" x2="520.00" y2="754.00" stroke="#000" stroke-width="1.5" />
<line x1="517.00" y1="764.60" x2="527.50" y2="754.00" stroke="#000" stroke-width="1.5" />
<line x1="524.50" y1="764.60" x2="535.00" y2="754.00" stroke="#000" stroke-width="1.5" />
<line x1="532.00" y1="764.60" x2="542.50" y2="754.00" stroke="#000" stroke-width="1.5" />
<line x1="539.50" y1="764.60" x2="550.00" y2="754.00" stroke="#000" stroke-width="1.5" />
<line x1="547.00" y1="764.60" x2="557.50" y2="754.00" stroke="#000" stroke-width="1.5" />
<line x1="554.50" y1="764.60" x2="565.00" y2="754.00" stroke="#000" stroke-width="1.5" />
<line x1="562.00" y1="764.60" x2="572.50" y2="754.00" stroke="#000" stroke-width="1.5" />
<line x1="569.50" y1="764.60" x2="580.00" y2="754.00" stroke="#000" stroke-width="1.5" />
<line x1="577.00" y1="764.60" x2="587.50" y2="754.00" stroke="#000" stroke-width="1.5" />
<line x1="584.50" y1="764.60" x2="595.00" y2="754.00" stroke="#000" stroke-width="1.5" />
<line x1="592.00" y1="764.60" x2="602.50" y2="754.00" stroke="#000" stroke-width="1.5" />
<line x1="599.50" y1="764.60" x2="610.00" y2="754.00" stroke="#000" stroke-width="1.5" />
<line x1="607.00" y1="764.60" x2="617.50" y2="754.00" stroke="#000" stroke-width="1.5" />
<line x1="614.50" y1="764.60" x2="625.00" y2="754.00" stroke="#000" stroke-width="1.5" />
<path d="M455,615 L626,615 L594,688 Q587,699 586.2,714" stroke="#000" stroke-width="2.2" fill="none" stroke-linejoin="round" />
<path d="M456,625 L460.6,625 L460.6,648.2 L456,648.2" stroke="#000" stroke-width="1.4" fill="none" stroke-linejoin="round" />
<rect x="460.60" y="628.20" width="14.00" height="16.70" rx="0" stroke="#000" stroke-width="1.4" fill="#fff" />
<rect x="472.00" y="629.00" width="2.60" height="15.00" rx="0" stroke="none" stroke-width="0" fill="#888" />
<line x1="460.00" y1="636.50" x2="465.70" y2="636.50" stroke="#000" stroke-width="1.2" />
<line x1="456.00" y1="648.20" x2="490.50" y2="648.20" stroke="#000" stroke-width="1.6" />
<line x1="497.20" y1="615.00" x2="497.20" y2="633.20" stroke="#000" stroke-width="1.4" />
<path d="M487.9,635.3 Q490,633.5 497.8,633.2 Q515,627 531.7,627.9" stroke="#000" stroke-width="1.6" fill="none" stroke-linejoin="round" />
<path d="M489.9,641.1 L600,641.1 Q606.6,638 606.6,630 L606.6,615" stroke="#000" stroke-width="1.6" fill="none" stroke-linejoin="round" />
<path d="M487.9,635.3 Q492,650 497.5,661.4 Q506,676 508.5,681.8 Q512,690 512.4,707.7" stroke="#000" stroke-width="1.6" fill="none" stroke-linejoin="round" />
<path d="M456,663.5 L496.5,663.5" stroke="#000" stroke-width="1.6" fill="none" stroke-linejoin="round" />
<path d="M460.4,663.5 L460.4,696.7 L475.9,696.7 Q478,692 481.8,692 Q485.5,692 486,696 Q488,712 493.5,721 Q502,731 513.2,730.8 Q529,729 536,718 Q545,705 546,692 L546.1,680.2 Q548,675.5 556,673.5 Q586,664 600.3,643.3" stroke="#000" stroke-width="1.6" fill="none" stroke-linejoin="round" />
<line x1="460.40" y1="680.70" x2="471.90" y2="680.70" stroke="#000" stroke-width="1.3" />
<line x1="455.00" y1="714.00" x2="489.60" y2="714.00" stroke="#000" stroke-width="2.2" />
<line x1="540.60" y1="714.00" x2="586.20" y2="714.00" stroke="#000" stroke-width="2.2" />
<line x1="486.5" y1="691.9" x2="546" y2="691.9" stroke="#111" stroke-width="1.5" stroke-dasharray="12.5,4,5,4"/>
<line x1="489" y1="697.7" x2="540" y2="697.7" stroke="#111" stroke-width="1.5" stroke-dasharray="12.5,4,5,4"/>
<line x1="490" y1="702.9" x2="539" y2="702.9" stroke="#111" stroke-width="1.5" stroke-dasharray="12.5,4,5,4"/>
<line x1="491" y1="707.9" x2="538" y2="707.9" stroke="#111" stroke-width="1.5" stroke-dasharray="12.5,4,5,4"/>
<line x1="493" y1="713" x2="534" y2="713" stroke="#111" stroke-width="1.5" stroke-dasharray="12.5,4,5,4"/>
<line x1="495.5" y1="718.4" x2="532" y2="718.4" stroke="#111" stroke-width="1.5" stroke-dasharray="12.5,4,5,4"/>
<line x1="500.5" y1="723.8" x2="528" y2="723.8" stroke="#111" stroke-width="1.5" stroke-dasharray="12.5,4,5,4"/>
<line x1="526.50" y1="730.60" x2="660.40" y2="730.60" stroke="#000" stroke-width="1.3" />
<line x1="426.40" y1="626.90" x2="453.00" y2="626.90" stroke="#000" stroke-width="1.3" />
<line x1="426.40" y1="645.30" x2="453.00" y2="645.30" stroke="#000" stroke-width="1.3" />
<line x1="430.60" y1="607.00" x2="430.60" y2="626.90" stroke="#000" stroke-width="1.3" />
<polygon points="430.60,626.90 426.80,615.90 434.40,615.90" fill="#000"/>
<line x1="430.60" y1="664.40" x2="430.60" y2="645.30" stroke="#000" stroke-width="1.3" />
<polygon points="430.60,645.30 426.80,656.30 434.40,656.30" fill="#000"/>
<text x="405.65" y="642.00" font-size="19.58" text-anchor="middle" fill="#111" textLength="38.47" lengthAdjust="spacingAndGlyphs">Ø55</text>
<line x1="373.60" y1="664.90" x2="453.00" y2="664.90" stroke="#000" stroke-width="1.3" />
<line x1="373.60" y1="696.90" x2="453.00" y2="696.90" stroke="#000" stroke-width="1.3" />
<line x1="379.90" y1="641.60" x2="379.90" y2="664.90" stroke="#000" stroke-width="1.3" />
<polygon points="379.90,664.90 376.10,653.90 383.70,653.90" fill="#000"/>
<line x1="379.90" y1="720.20" x2="379.90" y2="696.90" stroke="#000" stroke-width="1.3" />
<polygon points="379.90,696.90 376.10,707.90 383.70,707.90" fill="#000"/>
<text x="391.85" y="688.00" font-size="20.56" text-anchor="middle" fill="#111" textLength="50.14" lengthAdjust="spacingAndGlyphs">Ø100</text>
<line x1="341.00" y1="681.00" x2="363.80" y2="681.00" stroke="#000" stroke-width="1.3" />
<line x1="422" y1="681" x2="453" y2="681" stroke="#000" stroke-width="1.3" stroke-dasharray="5,5"/>
<line x1="344.40" y1="657.60" x2="344.40" y2="681.00" stroke="#000" stroke-width="1.3" />
<polygon points="344.40,681.00 340.60,670.00 348.20,670.00" fill="#000"/>
<text x="354.10" y="724.40" font-size="20.56" text-anchor="middle" fill="#111" textLength="34.44" lengthAdjust="spacingAndGlyphs">220</text>
<line x1="341.00" y1="753.20" x2="441.00" y2="753.20" stroke="#000" stroke-width="1.3" />
<line x1="344.40" y1="777.00" x2="344.40" y2="753.20" stroke="#000" stroke-width="1.3" />
<polygon points="344.40,753.20 340.60,764.20 348.20,764.20" fill="#000"/>
<line x1="626.00" y1="614.90" x2="711.00" y2="614.90" stroke="#000" stroke-width="1.3" />
<line x1="703.80" y1="614.90" x2="703.80" y2="666.00" stroke="#000" stroke-width="1.3" />
<polygon points="703.80,614.90 700.00,625.90 707.60,625.90" fill="#000"/>
<line x1="703.80" y1="697.50" x2="703.80" y2="752.60" stroke="#000" stroke-width="1.3" />
<polygon points="703.80,752.60 700.00,741.60 707.60,741.60" fill="#000"/>
<text x="702.25" y="689.50" font-size="20.70" text-anchor="middle" fill="#111" textLength="34.55" lengthAdjust="spacingAndGlyphs">420</text>
<line x1="655.00" y1="706.00" x2="655.00" y2="730.60" stroke="#000" stroke-width="1.3" />
<polygon points="655.00,730.60 651.20,719.60 658.80,719.60" fill="#000"/>
<line x1="655.00" y1="777.00" x2="655.00" y2="752.60" stroke="#000" stroke-width="1.3" />
<polygon points="655.00,752.60 651.20,763.60 658.80,763.60" fill="#000"/>
<text x="671.85" y="748.20" font-size="20.70" text-anchor="middle" fill="#111" textLength="24.35" lengthAdjust="spacingAndGlyphs">65</text>
<path d="M824.5,614.3 L945,614.3 L923.5,697 Q922.3,703 922.3,713.5 L900.8,713.5 Q885,719 868.6,713.5 L848.4,713.5 Q848.4,703 846,697 Z" stroke="#000" stroke-width="2.4" fill="none" stroke-linejoin="round" />
<path d="M868.6,713.5 L868.6,716 A16.1,16.1 0 0 0 900.8,716 L900.8,713.5" stroke="#000" stroke-width="2.4" fill="none" stroke-linejoin="round" />
<circle cx="885.10" cy="635.90" r="10.40" stroke="#000" stroke-width="1.5" fill="none"/>
<line x1="872.00" y1="635.90" x2="886.00" y2="635.90" stroke="#000" stroke-width="1.5" />
<line x1="888.00" y1="635.90" x2="894.90" y2="635.90" stroke="#000" stroke-width="1.5" />
<line x1="885.10" y1="625.90" x2="885.10" y2="630.50" stroke="#000" stroke-width="1.5" />
<line x1="885.10" y1="633.00" x2="885.10" y2="647.60" stroke="#000" stroke-width="1.5" />
<circle cx="898.50" cy="636.00" r="0.80" stroke="#000" stroke-width="0" fill="#444"/>
<circle cx="885.40" cy="683.70" r="13.60" stroke="#000" stroke-width="1.5" fill="none"/>
<line x1="869.30" y1="683.70" x2="882.50" y2="683.70" stroke="#000" stroke-width="1.5" />
<line x1="887.80" y1="683.70" x2="891.60" y2="683.70" stroke="#000" stroke-width="1.5" />
<line x1="897.60" y1="683.70" x2="900.90" y2="683.70" stroke="#000" stroke-width="1.5" />
<line x1="885.40" y1="668.30" x2="885.40" y2="679.50" stroke="#000" stroke-width="1.5" />
<line x1="885.40" y1="681.00" x2="885.40" y2="683.00" stroke="#000" stroke-width="1.3" />
<line x1="885.40" y1="686.00" x2="885.40" y2="699.20" stroke="#000" stroke-width="1.5" />
<circle cx="855.80" cy="648.20" r="4.00" stroke="#000" stroke-width="1.5" fill="none"/>
<line x1="849.20" y1="648.20" x2="864.50" y2="648.20" stroke="#000" stroke-width="1.4" />
<line x1="855.80" y1="640.00" x2="855.80" y2="654.70" stroke="#000" stroke-width="1.4" />
<circle cx="915.50" cy="648.20" r="4.00" stroke="#000" stroke-width="1.5" fill="none"/>
<line x1="908.90" y1="648.20" x2="924.20" y2="648.20" stroke="#000" stroke-width="1.4" />
<line x1="915.50" y1="640.00" x2="915.50" y2="654.70" stroke="#000" stroke-width="1.4" />
<line x1="855.30" y1="573.60" x2="855.30" y2="629.70" stroke="#000" stroke-width="1.3" />
<line x1="915.10" y1="573.60" x2="915.10" y2="629.70" stroke="#000" stroke-width="1.3" />
<line x1="835.40" y1="577.50" x2="855.30" y2="577.50" stroke="#000" stroke-width="1.3" />
<polygon points="855.30,577.50 844.30,573.70 844.30,581.30" fill="#000"/>
<line x1="915.10" y1="577.50" x2="935.00" y2="577.50" stroke="#000" stroke-width="1.3" />
<polygon points="915.10,577.50 926.10,573.70 926.10,581.30" fill="#000"/>
<text x="885.65" y="582.60" font-size="20.70" text-anchor="middle" fill="#111" textLength="33.15" lengthAdjust="spacingAndGlyphs">180</text>
<line x1="914.00" y1="635.90" x2="1003.00" y2="635.90" stroke="#000" stroke-width="1.3" />
<line x1="928.00" y1="648.20" x2="978.00" y2="648.20" stroke="#000" stroke-width="1.3" />
<line x1="832.00" y1="754.90" x2="937.40" y2="754.90" stroke="#000" stroke-width="2.2" />
<line x1="944.00" y1="754.70" x2="1008.00" y2="754.70" stroke="#000" stroke-width="1.3" />
<line x1="829.00" y1="764.50" x2="839.00" y2="755.50" stroke="#000" stroke-width="1.6" />
<line x1="835.15" y1="764.50" x2="845.15" y2="755.50" stroke="#000" stroke-width="1.6" />
<line x1="841.30" y1="764.50" x2="851.30" y2="755.50" stroke="#000" stroke-width="1.6" />
<line x1="847.45" y1="764.50" x2="857.45" y2="755.50" stroke="#000" stroke-width="1.6" />
<line x1="853.60" y1="764.50" x2="863.60" y2="755.50" stroke="#000" stroke-width="1.6" />
<line x1="859.75" y1="764.50" x2="869.75" y2="755.50" stroke="#000" stroke-width="1.6" />
<line x1="865.90" y1="764.50" x2="875.90" y2="755.50" stroke="#000" stroke-width="1.6" />
<line x1="872.05" y1="764.50" x2="882.05" y2="755.50" stroke="#000" stroke-width="1.6" />
<line x1="878.20" y1="764.50" x2="888.20" y2="755.50" stroke="#000" stroke-width="1.6" />
<line x1="884.35" y1="764.50" x2="894.35" y2="755.50" stroke="#000" stroke-width="1.6" />
<line x1="890.50" y1="764.50" x2="900.50" y2="755.50" stroke="#000" stroke-width="1.6" />
<line x1="896.65" y1="764.50" x2="906.65" y2="755.50" stroke="#000" stroke-width="1.6" />
<line x1="902.80" y1="764.50" x2="912.80" y2="755.50" stroke="#000" stroke-width="1.6" />
<line x1="908.95" y1="764.50" x2="918.95" y2="755.50" stroke="#000" stroke-width="1.6" />
<line x1="915.10" y1="764.50" x2="925.10" y2="755.50" stroke="#000" stroke-width="1.6" />
<line x1="921.25" y1="764.50" x2="931.25" y2="755.50" stroke="#000" stroke-width="1.6" />
<line x1="966.40" y1="648.20" x2="966.40" y2="689.60" stroke="#000" stroke-width="1.3" />
<polygon points="966.40,648.20 962.60,659.20 970.20,659.20" fill="#000"/>
<line x1="966.40" y1="723.40" x2="966.40" y2="754.70" stroke="#000" stroke-width="1.3" />
<polygon points="966.40,754.70 962.60,743.70 970.20,743.70" fill="#000"/>
<text x="965.25" y="713.20" font-size="20.85" text-anchor="middle" fill="#111" textLength="33.96" lengthAdjust="spacingAndGlyphs">320</text>
<line x1="999.30" y1="636.00" x2="999.30" y2="683.80" stroke="#000" stroke-width="1.3" />
<polygon points="999.30,636.00 995.50,647.00 1003.10,647.00" fill="#000"/>
<line x1="999.30" y1="707.00" x2="999.30" y2="754.70" stroke="#000" stroke-width="1.3" />
<polygon points="999.30,754.70 995.50,743.70 1003.10,743.70" fill="#000"/>
<text x="1002.15" y="702.20" font-size="20.85" text-anchor="middle" fill="#111" textLength="34.36" lengthAdjust="spacingAndGlyphs">355</text>
<rect x="0.00" y="796.00" width="1024.00" height="18.50" rx="0" stroke="none" stroke-width="0" fill="#979797" />
<text x="7.00" y="810.60" font-size="18" text-anchor="end" fill="#fbfbfb" >y</text>
<text x="14.30" y="810.60" font-size="18" text-anchor="start" fill="#fbfbfb" >domostroi.by</text>
<text x="127.50" y="810.60" font-size="18" text-anchor="start" fill="#fbfbfb" >domostroi.by</text>
<text x="240.70" y="810.60" font-size="18" text-anchor="start" fill="#fbfbfb" >domostroi.by</text>
<text x="353.90" y="810.60" font-size="18" text-anchor="start" fill="#fbfbfb" >domostroi.by</text>
<text x="467.10" y="810.60" font-size="18" text-anchor="start" fill="#fbfbfb" >domostroi.by</text>
<text x="580.30" y="810.60" font-size="18" text-anchor="start" fill="#fbfbfb" >domostroi.by</text>
<text x="693.50" y="810.60" font-size="18" text-anchor="start" fill="#fbfbfb" >domostroi.by</text>
<text x="806.70" y="810.60" font-size="18" text-anchor="start" fill="#fbfbfb" >domostroi.by</text>
<text x="919.90" y="810.60" font-size="18" text-anchor="start" fill="#fbfbfb" >domostroi.by</text>
</svg>
</body></html>
